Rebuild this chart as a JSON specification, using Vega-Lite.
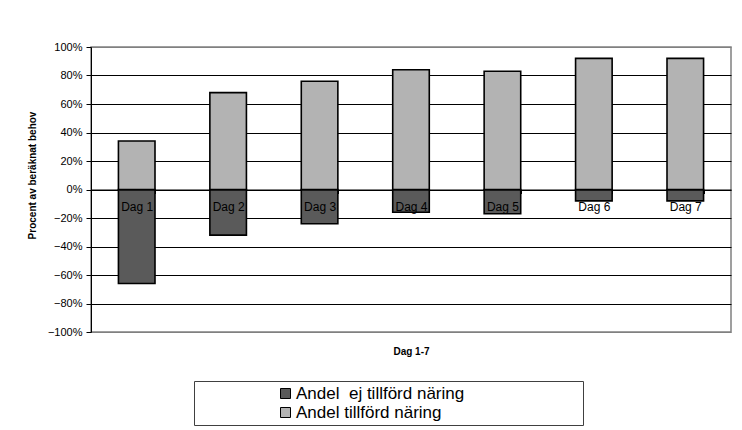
{
  "$schema": "https://vega.github.io/schema/vega-lite/v6.json",
  "width": 640,
  "height": 285,
  "autosize": "none",
  "padding": {"left": 91, "top": 47, "right": 11, "bottom": 98},
  "background": "white",
  "config": {
    "font": "Liberation Sans",
    "view": {"stroke": "#808080", "strokeWidth": 1.5}
  },
  "data": {
    "values": [
      {"dag": "Dag 1", "serie": "Andel\u00a0 ej tillförd näring", "andel": -0.66},
      {"dag": "Dag 1", "serie": "Andel tillförd näring", "andel": 0.34},
      {"dag": "Dag 2", "serie": "Andel\u00a0 ej tillförd näring", "andel": -0.32},
      {"dag": "Dag 2", "serie": "Andel tillförd näring", "andel": 0.68},
      {"dag": "Dag 3", "serie": "Andel\u00a0 ej tillförd näring", "andel": -0.24},
      {"dag": "Dag 3", "serie": "Andel tillförd näring", "andel": 0.76},
      {"dag": "Dag 4", "serie": "Andel\u00a0 ej tillförd näring", "andel": -0.16},
      {"dag": "Dag 4", "serie": "Andel tillförd näring", "andel": 0.84},
      {"dag": "Dag 5", "serie": "Andel\u00a0 ej tillförd näring", "andel": -0.17},
      {"dag": "Dag 5", "serie": "Andel tillförd näring", "andel": 0.83},
      {"dag": "Dag 6", "serie": "Andel\u00a0 ej tillförd näring", "andel": -0.08},
      {"dag": "Dag 6", "serie": "Andel tillförd näring", "andel": 0.92},
      {"dag": "Dag 7", "serie": "Andel\u00a0 ej tillförd näring", "andel": -0.08},
      {"dag": "Dag 7", "serie": "Andel tillförd näring", "andel": 0.92}
    ]
  },
  "mark": {"type": "bar", "stroke": "black", "strokeWidth": 1.6},
  "encoding": {
    "x": {
      "field": "dag",
      "type": "nominal",
      "scale": {"paddingInner": 0.6, "paddingOuter": 0.3},
      "axis": {
        "title": "Dag 1-7",
        "titleFontSize": 10,
        "titleFontWeight": "bold",
        "titleColor": "black",
        "titleY": 157,
        "offset": -142.5,
        "labelAngle": 0,
        "labelFontSize": 12,
        "labelColor": "black",
        "labelPadding": 8,
        "tickBand": "extent",
        "tickSize": 4,
        "tickColor": "black",
        "domainColor": "black",
        "domainWidth": 1,
        "zindex": 1
      }
    },
    "y": {
      "field": "andel",
      "type": "quantitative",
      "stack": null,
      "scale": {"domain": [-1, 1], "nice": false},
      "axis": {
        "title": "Procent av beräknat behov",
        "titleFontSize": 10,
        "titleFontWeight": "bold",
        "titleColor": "black",
        "titleX": -54,
        "titleY": 128,
        "values": [-1, -0.8, -0.6, -0.4, -0.2, 0, 0.2, 0.4, 0.6, 0.8, 1],
        "format": ".0%",
        "labelFontSize": 11,
        "labelColor": "black",
        "labelPadding": 4,
        "tickSize": 5,
        "tickColor": "black",
        "domainColor": "black",
        "gridColor": {"condition": {"test": "abs(datum.value) > 0.99", "value": "#808080"}, "value": "black"},
        "gridWidth": 1
      }
    },
    "color": {
      "field": "serie",
      "type": "nominal",
      "scale": {
        "domain": ["Andel\u00a0 ej tillförd näring", "Andel tillförd näring"],
        "range": ["#5a5a5a", "#b3b3b3"]
      },
      "legend": {
        "orient": "none",
        "legendX": 103,
        "legendY": 334,
        "direction": "vertical",
        "title": "MMMMMMMMMMM",
        "titleOrient": "right",
        "titleOpacity": 0,
        "titleFontSize": 12,
        "titleLimit": 400,
        "padding": 4,
        "strokeColor": "#404040",
        "fillColor": "white",
        "symbolType": "square",
        "symbolSize": 100,
        "symbolStrokeColor": "black",
        "symbolStrokeWidth": 1,
        "symbolOpacity": 1,
        "symbolOffset": 79,
        "labelFontSize": 17,
        "labelLimit": 400,
        "labelColor": "black",
        "labelOffset": 2,
        "rowPadding": 1
      }
    }
  }
}
